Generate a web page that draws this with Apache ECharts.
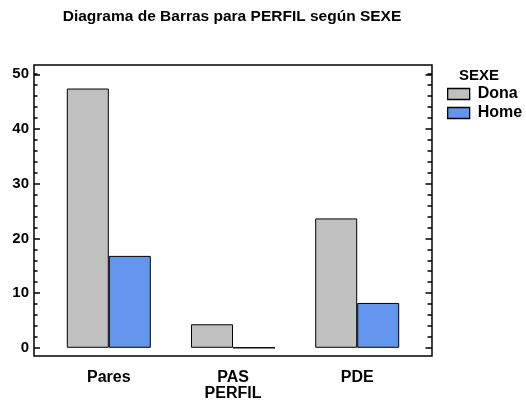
<!DOCTYPE html>
<html>
<head>
<meta charset="utf-8">
<script src="https://cdn.jsdelivr.net/npm/echarts@6/dist/echarts.min.js"></script>
<style>
  html, body { margin: 0; padding: 0; background: #fff; }
  #chart { width: 526px; height: 402px; }
</style>
</head>
<body>
<div id="chart"></div>
<script>
// datos
var categories = ['Pares', 'PAS', 'PDE'];
var seriesNames = ['Dona', 'Home'];
var donaValues = [47.4, 4.3, 23.65];
var homeValues = [16.8, 0, 8.2];
var majorTicks = [0, 10, 20, 30, 40, 50];
var minorTicks = [2, 4, 6, 8, 12, 14, 16, 18, 22, 24, 26, 28, 32, 34, 36, 38, 42, 44, 46, 48, 50.1];

// marco del grafico
var frameLeft = 34, frameTop = 65, frameRight = 432, frameBottom = 356;
var pad = 12.7;
var yMin = -1.5, yMax = 51.7;
var font = 'Liberation Sans, Arial, sans-serif';

function yAxisDef(pos, ticks, len, labels) {
  return {
    type: 'value', position: pos, min: yMin, max: yMax, offset: pad,
    axisLine: { show: false },
    splitLine: { show: false },
    axisTick: { show: true, inside: true, length: len, customValues: ticks,
                lineStyle: { color: '#000', width: 1.5 } },
    axisLabel: { show: labels, customValues: ticks, color: '#000', fontSize: 15,
                 fontWeight: 'bold', fontFamily: font, margin: 5 }
  };
}

var chart = echarts.init(document.getElementById('chart'));
var option = {
  animation: false,
  backgroundColor: '#fff',
  title: [{
    text: 'Diagrama de Barras para PERFIL según SEXE',
    left: 227, top: 4, textAlign: 'center',
    textStyle: { fontSize: 15.5, fontWeight: 'bold', color: '#000', fontFamily: font }
  }, {
    text: 'SEXE', left: 454, top: 63,
    textStyle: { fontSize: 15, fontWeight: 'bold', color: '#000', fontFamily: font }
  }],
  legend: {
    orient: 'vertical', left: 442, top: 81,
    icon: 'rect', itemWidth: 22, itemHeight: 11, itemGap: 3,
    itemStyle: { borderColor: '#000', borderWidth: 1.3 },
    textStyle: { fontSize: 16, fontWeight: 'bold', color: '#000', fontFamily: font, padding: [0, 0, 0, 3] },
    data: seriesNames
  },
  grid: {
    left: frameLeft + pad, right: 526 - frameRight + pad,
    top: frameTop, bottom: 402 - frameBottom,
    containLabel: false, outerBoundsMode: 'none'
  },
  xAxis: {
    type: 'category', data: categories,
    name: 'PERFIL', nameLocation: 'middle', nameGap: 30, nameMoveOverlap: false,
    nameTextStyle: { fontSize: 16, fontWeight: 'bold', color: '#000', fontFamily: font },
    axisLine: { show: false }, axisTick: { show: false },
    axisLabel: { color: '#000', fontSize: 16, fontWeight: 'bold', fontFamily: font, margin: 14 }
  },
  yAxis: [
    yAxisDef('left', majorTicks, 6, true),
    yAxisDef('left', minorTicks, 3.5, false),
    yAxisDef('right', majorTicks, 6.5, false),
    yAxisDef('right', minorTicks, 4.5, false)
  ],
  graphic: [{
    type: 'rect', silent: true, z: 100,
    shape: { x: frameLeft, y: frameTop, width: frameRight - frameLeft, height: frameBottom - frameTop },
    style: { fill: null, stroke: '#000', lineWidth: 1.5 }
  }],
  series: [{
    name: seriesNames[0], type: 'bar', data: donaValues, barWidth: 42, barGap: '0%',
    itemStyle: { color: '#c0c0c0', borderColor: '#000', borderWidth: 1 }
  }, {
    name: seriesNames[1], type: 'bar', data: homeValues, barWidth: 42, barGap: '0%',
    itemStyle: { color: '#6495ed', borderColor: '#000', borderWidth: 1 }
  }]
};
chart.setOption(option);
</script>
</body>
</html>
